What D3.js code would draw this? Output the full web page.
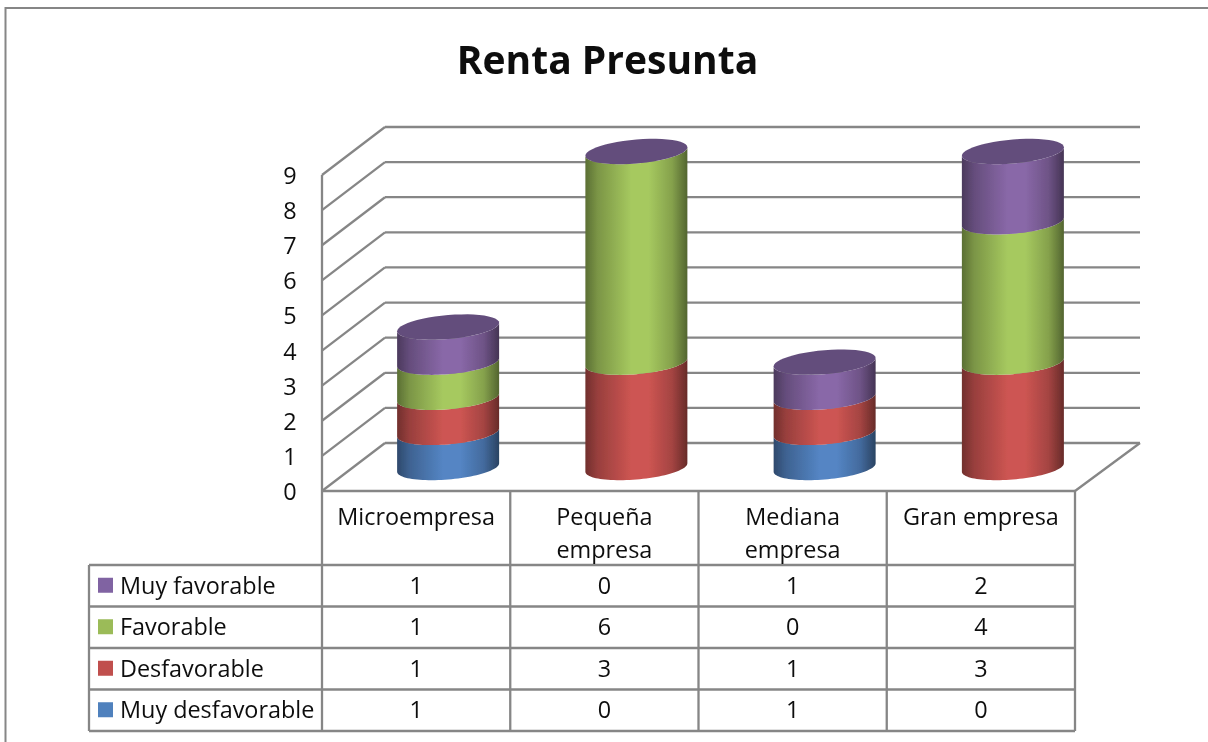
<!DOCTYPE html>
<meta charset='utf-8'>
<style>
body { margin: 0; background: #fff; font-family: 'Open Sans', Lato, sans-serif; }
text { fill: #111; }
.grid line, .frame line { stroke: #868686; stroke-width: 2.3; }
</style>
<svg width='1208' height='742'></svg>
<script src='https://d3js.org/d3.v7.min.js'></script>
<script>

var categories = ['Microempresa', 'Pequeña empresa', 'Mediana empresa', 'Gran empresa'];
var seriesNames = ['Muy desfavorable', 'Desfavorable', 'Favorable', 'Muy favorable'];
var muyDesfavorable = [1, 0, 1, 0];
var desfavorable = [1, 3, 1, 3];
var favorable = [1, 6, 0, 4];
var muyFavorable = [1, 0, 1, 2];
var seriesValues = [muyDesfavorable, desfavorable, favorable, muyFavorable];
var seriesColors = ['#4f81bd', '#c0504d', '#9bbb59', '#8064a2'];
var bodyColors = ['#5485c4', '#cd5552', '#a6c95f', '#8968a8'];
var yTicks = [0, 1, 2, 3, 4, 5, 6, 7, 8, 9];

var svg = d3.select('svg'),
    defs = svg.append('defs');

// the reference is a soft upscaled screenshot
defs.append('filter')
    .attr('id', 'soft')
    .attr('filterUnits', 'userSpaceOnUse')
    .attr('x', 0).attr('y', 0).attr('width', 1208).attr('height', 742)
    .append('feGaussianBlur')
    .attr('stdDeviation', 0.45);

var root = svg.append('g').attr('filter', 'url(#soft)');

// depth of the 3d box
var depthX = 63,
    depthY = -48;

var x = d3.scaleBand().domain(categories).range([322, 1075]);
var y = d3.scaleLinear().domain([0, 9]).range([491, 175]);

// outer frame, runs off the picture on the right and at the bottom
root.append('path')
    .attr('d', 'M5.5,742V8H1208')
    .attr('fill', 'none')
    .attr('stroke', '#868686')
    .attr('stroke-width', 2);

root.append('text')
    .attr('x', 607.5)
    .attr('y', 74)
    .attr('text-anchor', 'middle')
    .attr('font-size', 39)
    .attr('font-weight', 'bold')
    .text('Renta Presunta');

// walls
var grid = root.append('g').attr('class', 'grid');
grid.selectAll('.back')
    .data(yTicks)
    .enter()
    .append('line')
    .attr('x1', 322 + depthX)
    .attr('x2', 1140)
    .attr('y1', function(d) { return y(d) + depthY; })
    .attr('y2', function(d) { return y(d) + depthY; });
grid.selectAll('.side')
    .data(yTicks)
    .enter()
    .append('line')
    .attr('x1', 322)
    .attr('x2', 322 + depthX)
    .attr('y1', function(d) { return y(d); })
    .attr('y2', function(d) { return y(d) + depthY; });
grid.append('line').attr('x1', 322).attr('x2', 322).attr('y1', y(9)).attr('y2', 565);
grid.append('line').attr('x1', 1075).attr('x2', 1140).attr('y1', 491).attr('y2', 443);
grid.append('line').attr('x1', 322).attr('x2', 1075).attr('y1', 491).attr('y2', 491);

root.selectAll('.ytick')
    .data(yTicks)
    .enter()
    .append('text')
    .attr('x', 290)
    .attr('y', function(d) { return y(d) + 9; })
    .attr('text-anchor', 'middle')
    .attr('font-size', 23.4)
    .text(function(d) { return d; });

// horizontal shading of the cylinders
seriesColors.forEach(function(c, i) {
    var g = defs.append('linearGradient').attr('id', 'cyl' + i);
    var base = d3.color(bodyColors[i]);
    [[0, 0.55], [0.12, 0.74], [0.45, 1], [0.62, 1], [0.85, 0.8], [1, 0.5]].forEach(function(s) {
        g.append('stop')
            .attr('offset', s[0])
            .attr('stop-color', d3.rgb(base.r * s[1], base.g * s[1], base.b * s[1]));
    });
});

// cylinder geometry, the ellipse is sheared as in the picture
var rx = 51,
    ry = 12,
    shear = 4.2 / 51,
    baseDrop = 23.5;

function rim(cx, cy, from, to) {
    var pts = [];
    for (var i = 0; i <= 48; i++) {
        var t = from + (to - from) * i / 48;
        pts.push([cx + rx * Math.cos(t), cy + ry * Math.sin(t) - shear * rx * Math.cos(t)]);
    }
    return pts;
}

var line = d3.line();
var marks = root.append('g').attr('class', 'cylinders');

categories.forEach(function(cat, c) {
    var cx = x(cat) + x.bandwidth() / 2 + depthX * 0.5 + 0.5,
        total = 0,
        lastTop = null;
    seriesValues.forEach(function(vals, s) {
        if (vals[c] === 0) return;
        var low = y(total) - baseDrop,
            high = y(total + vals[c]) - baseDrop;
        total += vals[c];
        // front rim of the bottom, then back along the front rim of the top
        var pts = rim(cx, low, 0, Math.PI).concat(rim(cx, high, Math.PI, 0));
        marks.append('path')
            .attr('d', line(pts) + 'Z')
            .attr('fill', 'url(#cyl' + s + ')');
        lastTop = high;
    });
    marks.append('path')
        .attr('d', line(rim(cx, lastTop, 0, Math.PI * 2)) + 'Z')
        .attr('fill', '#634d7c');
});

// data table
var rowY = d3.scaleBand().domain(seriesNames.slice().reverse()).range([565, 731]);
var table = root.append('g').attr('class', 'frame');
table.selectAll('.vert')
    .data(categories)
    .enter()
    .append('line')
    .attr('x1', function(d) { return x(d) + x.bandwidth(); })
    .attr('x2', function(d) { return x(d) + x.bandwidth(); })
    .attr('y1', 491)
    .attr('y2', 731);
table.append('line').attr('x1', 89).attr('x2', 89).attr('y1', 565).attr('y2', 731);
table.append('line').attr('x1', 322).attr('x2', 322).attr('y1', 565).attr('y2', 731);
table.selectAll('.row')
    .data(seriesNames.concat(['end']))
    .enter()
    .append('line')
    .attr('x1', 89)
    .attr('x2', 1075)
    .attr('y1', function(d) { return d === 'end' ? 565 : rowY(d) + rowY.bandwidth(); })
    .attr('y2', function(d) { return d === 'end' ? 565 : rowY(d) + rowY.bandwidth(); });

var catLines = [['Microempresa'], ['Pequeña', 'empresa'], ['Mediana', 'empresa'], ['Gran empresa']];
categories.forEach(function(cat, c) {
    catLines[c].forEach(function(l, i) {
        root.append('text')
            .attr('x', x(cat) + x.bandwidth() / 2)
            .attr('y', 525 + i * 33)
            .attr('text-anchor', 'middle')
            .attr('font-size', 23.4)
            .text(l);
    });
});

seriesNames.forEach(function(name, s) {
    var ry0 = rowY(name), h = rowY.bandwidth();
    root.append('rect')
        .attr('x', 98)
        .attr('y', ry0 + h / 2 - 8)
        .attr('width', 15)
        .attr('height', 15)
        .attr('fill', seriesColors[s]);
    root.append('text')
        .attr('x', 120)
        .attr('y', ry0 + h / 2 + 8)
        .attr('font-size', 23.4)
        .text(name);
    categories.forEach(function(cat, c) {
        root.append('text')
            .attr('x', x(cat) + x.bandwidth() / 2)
            .attr('y', ry0 + h / 2 + 8)
            .attr('text-anchor', 'middle')
            .attr('font-size', 23.4)
            .text(seriesValues[s][c]);
    });
});

</script>
